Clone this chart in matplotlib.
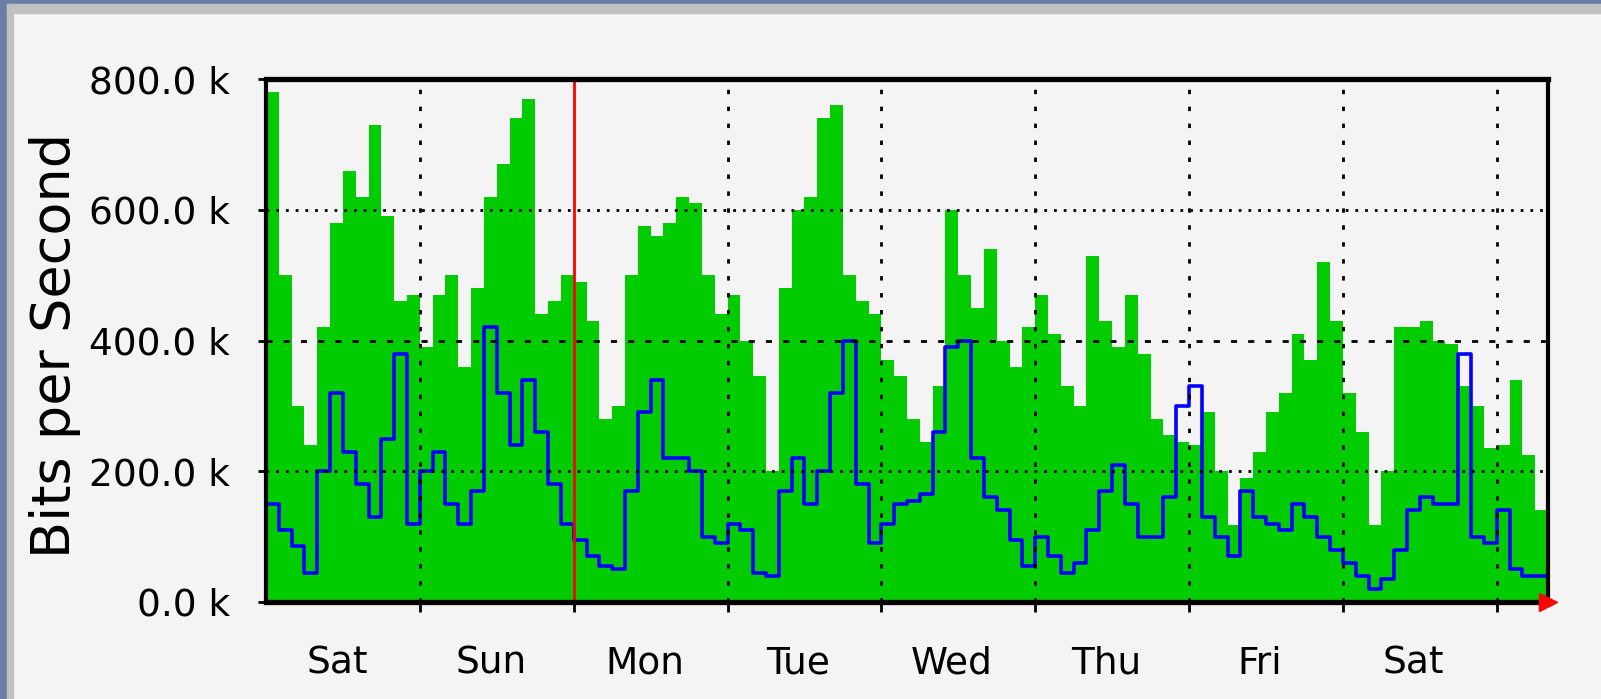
import numpy as np
import matplotlib
matplotlib.use("Agg")
import matplotlib.pyplot as plt
from matplotlib.patches import Rectangle
from matplotlib.transforms import blended_transform_factory

# ---- data (k bits per second, 2-hour bins, 200 hours shown) ----
bin_hours = 2
in_kbps = [780, 500, 300, 240, 420, 580, 660, 620, 730, 590,
           460, 470, 390, 470, 500, 360, 480, 620, 670, 740,
           770, 440, 460, 500, 490, 430, 280, 300, 500, 575,
           560, 580, 620, 610, 500, 440, 470, 400, 345, 200,
           480, 600, 620, 740, 760, 500, 460, 440, 370, 345,
           280, 245, 330, 600, 500, 450, 540, 400, 360, 420,
           470, 410, 330, 300, 530, 430, 390, 470, 380, 280,
           255, 245, 240, 290, 200, 118, 190, 230, 290, 320,
           410, 370, 520, 430, 320, 260, 118, 200, 420, 420,
           430, 400, 395, 330, 300, 235, 240, 340, 225, 140]
out_kbps = [150, 110, 85, 45, 200, 320, 230, 180, 130, 250,
            380, 120, 200, 230, 150, 120, 170, 420, 320, 240,
            340, 260, 180, 120, 95, 70, 55, 50, 170, 290,
            340, 220, 220, 200, 100, 90, 120, 110, 45, 40,
            170, 220, 150, 200, 320, 400, 180, 90, 120, 150,
            155, 165, 260, 390, 400, 220, 160, 140, 95, 55,
            100, 70, 45, 60, 110, 170, 210, 150, 100, 100,
            160, 300, 330, 130, 100, 70, 170, 130, 120, 110,
            150, 130, 100, 80, 60, 40, 20, 35, 80, 140,
            160, 150, 150, 380, 100, 90, 140, 50, 40, 40]
day_labels = ["Sat", "Sun", "Mon", "Tue", "Wed", "Thu", "Fri", "Sat"]
y_ticks = [0, 200, 400, 600, 800]
y_tick_labels = ["0.0 k", "200.0 k", "400.0 k", "600.0 k", "800.0 k"]
week_start_day = 2
y_label = "Bits per Second"

# ---- figure ----
W, H = 1601, 699
fig = plt.figure(figsize=(W / 100, H / 100), dpi=100, facecolor="#f4f4f4")

# window frame
fig.patches.append(Rectangle((0, 0), 7 / W, 1, transform=fig.transFigure,
                             color="#6b7ca6", zorder=0))
fig.patches.append(Rectangle((0, 1 - 4 / H), 1, 4 / H, transform=fig.transFigure,
                             color="#6b7ca6", zorder=0))
fig.patches.append(Rectangle((7 / W, 0), 6 / W, 1 - 4 / H, transform=fig.transFigure,
                             color="#c0c0c0", zorder=0))
fig.patches.append(Rectangle((7 / W, 1 - 13 / H), 1, 9 / H, transform=fig.transFigure,
                             color="#c0c0c0", zorder=0))

left, right, top, bottom = 266, 1548, 79, 602
ax = fig.add_axes([left / W, 1 - bottom / H, (right - left) / W, (bottom - top) / H])
ax.set_facecolor("#f4f4f4")

n = len(in_kbps)
edges = np.arange(n + 1) * bin_hours / 24.0
xmax = edges[-1]

ax.fill_between(edges, np.append(in_kbps, in_kbps[-1]), step="post",
                color="#00cc00", lw=0, zorder=1)
ax.plot(edges, np.append(out_kbps, out_kbps[-1]), drawstyle="steps-post",
        color="#0000ff", lw=2.6, zorder=2)

ax.set_xlim(0, xmax)
ax.set_ylim(0, 800)

# grid
for v in y_ticks[1:-1]:
    ls = (0, (2.2, 4)) if v == 400 else (0, (1, 2.5))
    ax.axhline(v, color="black", lw=2.0, ls=ls, zorder=3)
for d in range(1, 9):
    if d == week_start_day:
        ax.axvline(d, color="#ff0000", lw=2.0, zorder=3)
    else:
        ax.axvline(d, color="black", lw=2.0, ls=(0, (1.6, 4.5)), zorder=3)

# spines
for s in ["top", "bottom"]:
    ax.spines[s].set_linewidth(3.8)
    ax.spines[s].set_color("black")
for s in ["left", "right"]:
    ax.spines[s].set_linewidth(3.0)
    ax.spines[s].set_linestyle((0, (1, 1)))
    ax.spines[s].set_color("black")
for s in ax.spines.values():
    s.set_zorder(4)

ax.set_xticks(range(1, 9))
ax.set_xticklabels([])
ax.tick_params(axis="x", direction="out", length=7, width=2, color="black")
ax.set_yticks(y_ticks)
ax.set_yticklabels(y_tick_labels, fontsize=27, family="DejaVu Sans")
ax.tick_params(axis="y", direction="out", length=6, width=2, pad=20, color="black")

trans = blended_transform_factory(ax.transData, fig.transFigure)
for i, lab in enumerate(day_labels):
    ax.text(i + 0.46, 1 - 664 / H, lab, transform=trans, ha="center", va="center",
            fontsize=27, family="DejaVu Sans", color="black")

fig.text(55 / W, 1 - 345 / H, y_label, rotation=90, ha="center", va="center",
         fontsize=39, family="DejaVu Sans", color="black")

# "now" marker
ax.plot([xmax], [0], marker=">", color="#ff0000", markersize=13, clip_on=False, zorder=5)

fig.savefig("out.png", dpi=100, facecolor=fig.get_facecolor())
